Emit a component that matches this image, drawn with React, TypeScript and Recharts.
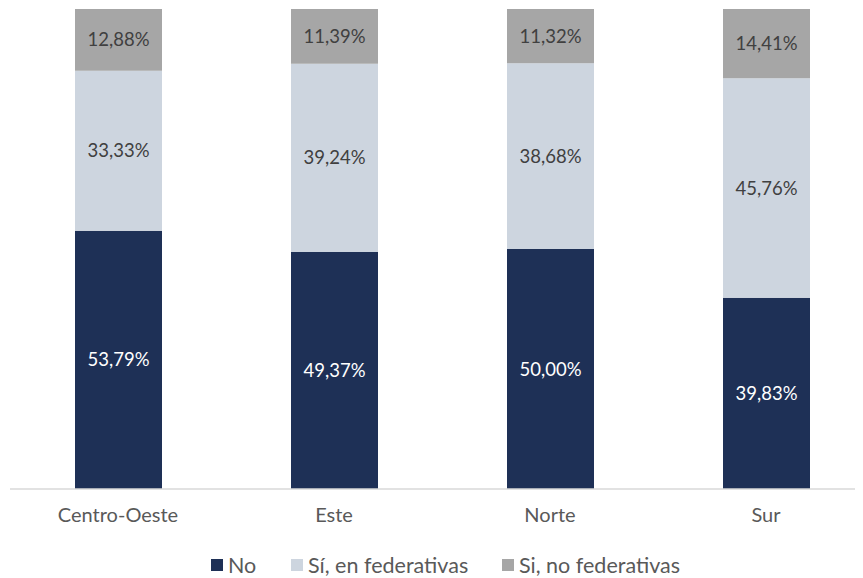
import React from 'react';
import { BarChart, Bar, XAxis, YAxis, Legend, LabelList } from 'recharts';

const categories = ['Centro-Oeste', 'Este', 'Norte', 'Sur'];
const noValues = [53.79, 49.37, 50.0, 39.83];
const siFedValues = [33.33, 39.24, 38.68, 45.76];
const siNoFedValues = [12.88, 11.39, 11.32, 14.41];

const seriesNames = ['No', 'Sí, en federativas', 'Si, no federativas'];
const colors = ['#1E3056', '#CDD5DF', '#A6A6A6'];
const labelColors = ['#FFFFFF', '#404040', '#404040'];

const data = categories.map((c, i) => ({
  name: c,
  no: noValues[i],
  siFed: siFedValues[i],
  siNoFed: siNoFedValues[i],
}));

const keys = ['no', 'siFed', 'siNoFed'];
const FONT = 'Lato, "Open Sans", sans-serif';

const fmt = (v: any) => `${Number(v).toFixed(2).replace('.', ',')}%`;

const LegendContent = () => (
  <div style={{ position: 'relative', height: 40, fontFamily: FONT, fontSize: 21.5, color: '#595959' }}>
    {seriesNames.map((n, i) => {
      const lefts = [203, 283, 494];
      return (
        <div key={n} style={{ position: 'absolute', left: lefts[i], top: 15, display: 'flex', alignItems: 'center', whiteSpace: 'nowrap', lineHeight: '24px' }}>
          <span style={{ display: 'inline-block', width: 12, height: 12, background: colors[i], marginRight: 5 }} />
          <span>{n}</span>
        </div>
      );
    })}
  </div>
);

export default function App() {
  return (
    <BarChart
      width={855}
      height={570}
      data={data}
      margin={{ top: 1, right: -11, left: 2, bottom: 0 }}
      barSize={87}
    >
      <XAxis
        dataKey="name"
        axisLine={{ stroke: '#D9D9D9', strokeWidth: 1.5 }}
        tickLine={false}
        height={49}
        tickMargin={13}
        tick={{ fill: '#595959', fontSize: 20, fontFamily: FONT }}
        interval={0}
      />
      <YAxis hide domain={[0, 100]} />
      <Legend verticalAlign="bottom" height={40} content={<LegendContent />} wrapperStyle={{ left: 0, width: 855 }} />
      {keys.map((k, i) => (
        <Bar key={k} dataKey={k} name={seriesNames[i]} stackId="a" fill={colors[i]} isAnimationActive={false}>
          <LabelList
            dataKey={k}
            position="center"
            formatter={fmt}
            style={{ fill: labelColors[i], fontSize: 18.5, fontFamily: FONT }}
          />
        </Bar>
      ))}
    </BarChart>
  );
}
